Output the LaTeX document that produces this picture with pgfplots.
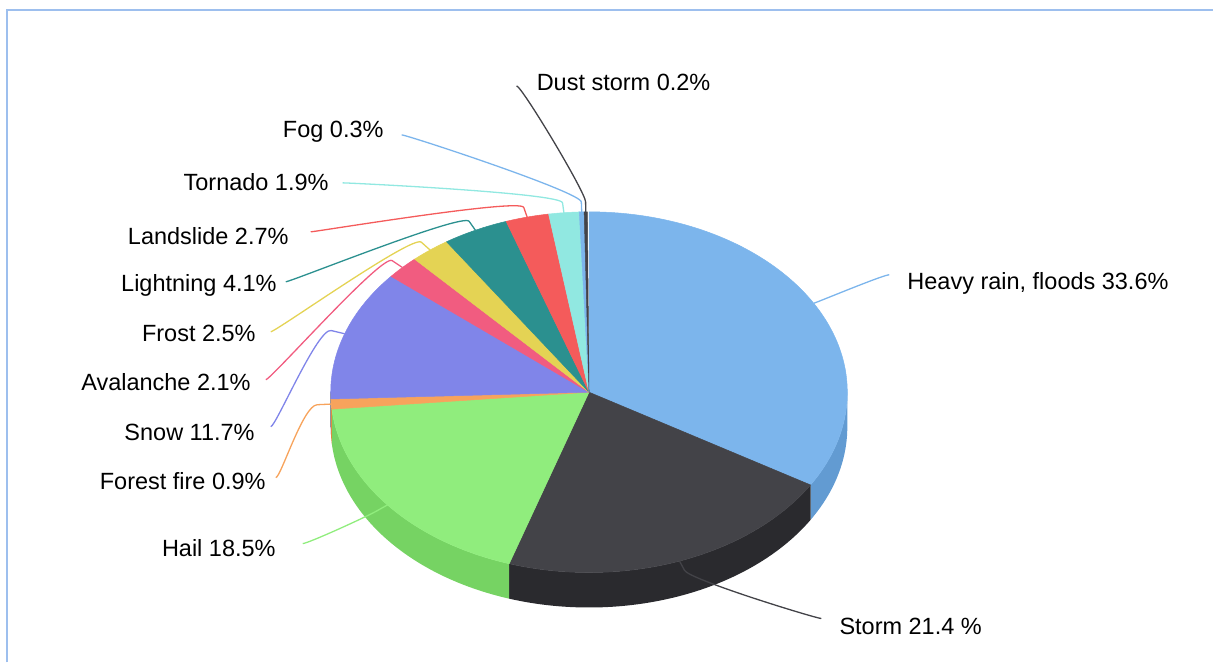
\documentclass[border=0pt]{standalone}
\usepackage{pgfplots}
\usepackage{pgfplotstable}
\pgfplotsset{compat=1.18}
\usepackage{fontspec}
\setmainfont{Liberation Sans}

% top-face colours (s) and the darker side walls (w)
\definecolor{s0}{HTML}{7CB5EC}\definecolor{w0}{HTML}{629BD2}
\definecolor{s1}{HTML}{434348}\definecolor{w1}{HTML}{2A2A2E}
\definecolor{s2}{HTML}{90ED7D}\definecolor{w2}{HTML}{76D363}
\definecolor{s3}{HTML}{F7A35C}\definecolor{w3}{HTML}{DD8942}
\definecolor{s4}{HTML}{8085E9}\definecolor{w4}{HTML}{666BCF}
\definecolor{s5}{HTML}{F15C80}\definecolor{w5}{HTML}{D74266}
\definecolor{s6}{HTML}{E4D354}\definecolor{w6}{HTML}{CAB93A}
\definecolor{s7}{HTML}{2B908F}\definecolor{w7}{HTML}{117675}
\definecolor{s8}{HTML}{F45B5B}\definecolor{w8}{HTML}{DA4141}
\definecolor{s9}{HTML}{91E8E1}\definecolor{w9}{HTML}{77CEC7}
\definecolor{s10}{HTML}{7CB5EC}\definecolor{w10}{HTML}{629BD2}
\definecolor{s11}{HTML}{434348}\definecolor{w11}{HTML}{2A2A2E}
\definecolor{frame}{HTML}{9DBFEE}

% share of each cause (%), clockwise from the top,
% and the outer end of its label connector (lx, ly)
\pgfplotstableread{
value  lx   ly
33.6   890  275
21.4   822  619
18.5   303  544
0.9    276  478
11.7   271  427
2.1    266  380
2.5    271  332
4.1    286  282
2.7    311  232
1.9    343  183
0.3    402  135
0.2    517  86
}\piedata

% pie geometry (y grows downwards): centre, radii, wall depth
\def\cx{589.5}\def\cy{392.5}\def\rx{258.5}\def\ry{180.5}\def\dep{35}
\def\g#1{\csname #1\endcsname}

% start/end angles, visible wall range and connector points per slice
\pgfmathsetmacro\acc{90}
\foreach \i in {0,...,11}{%
  \pgfplotstablegetelem{\i}{value}\of\piedata \let\sv\pgfplotsretval
  \pgfplotstablegetelem{\i}{lx}\of\piedata \let\slx\pgfplotsretval
  \pgfplotstablegetelem{\i}{ly}\of\piedata \let\sly\pgfplotsretval
  \pgfmathsetmacro\sA{\acc}
  \pgfmathsetmacro\sB{\acc-3.6*\sv}
  \pgfmathsetmacro\sM{(\sA+\sB)/2}
  \pgfmathsetmacro\sLo{max(\sB,-180)}
  \pgfmathsetmacro\sHi{max(min(\sA,0),\sLo)}
  \pgfmathsetmacro\sTx{\cx+\rx*cos(\sM)}
  \pgfmathsetmacro\sTy{\cy-\ry*sin(\sM)}
  \pgfmathsetmacro\sBx{\cx+1.055*\rx*cos(\sM)}
  \pgfmathsetmacro\sBy{\cy-1.055*\ry*sin(\sM)}
  \pgfmathsetmacro\sQx{2*\sBx-\sTx}
  \pgfmathsetmacro\sQy{2*\sBy-\sTy}
  \pgfmathsetmacro\sPx{\slx+ifthenelse(\slx<\sTx,5,-5)}
  \expandafter\xdef\csname pa\i\endcsname{\sA}
  \expandafter\xdef\csname pb\i\endcsname{\sB}
  \expandafter\xdef\csname lo\i\endcsname{\sLo}
  \expandafter\xdef\csname hi\i\endcsname{\sHi}
  \expandafter\xdef\csname tx\i\endcsname{\sTx}
  \expandafter\xdef\csname ty\i\endcsname{\sTy}
  \expandafter\xdef\csname bx\i\endcsname{\sBx}
  \expandafter\xdef\csname by\i\endcsname{\sBy}
  \expandafter\xdef\csname qx\i\endcsname{\sQx}
  \expandafter\xdef\csname qy\i\endcsname{\sQy}
  \expandafter\xdef\csname px\i\endcsname{\sPx}
  \expandafter\xdef\csname lx\i\endcsname{\slx}
  \expandafter\xdef\csname ly\i\endcsname{\sly}
  \xdef\acc{\sB}%
}

\begin{document}
\begin{tikzpicture}[lab/.style={font=\fontsize{23.5}{28}\selectfont, inner sep=0pt, text=black}]
\begin{axis}[
  scale only axis, width=1214pt, height=663pt,
  xmin=0, xmax=1214, ymin=0, ymax=663, y dir=reverse,
  hide axis, clip=false]

% keep the whole canvas in the bounding box
\path (axis cs:0,0) rectangle (axis cs:1214,663);

% side walls of the front half
\pgfplotsinvokeforeach{0,...,11}{
  \addplot[fill=w#1, draw=none, domain=0:3, samples=301, variable=\s]
    ({\cx+\rx*cos(\g{hi#1}+(\g{lo#1}-\g{hi#1})*(min(\s,1)-max(\s-2,0)))},
     {\cy-\ry*sin(\g{hi#1}+(\g{lo#1}-\g{hi#1})*(min(\s,1)-max(\s-2,0)))+\dep*min(max(\s-1,0),1)});
}

% top faces
\pgfplotsinvokeforeach{0,...,11}{
  \addplot[fill=s#1, draw=s#1, line width=0.5pt, domain=-1:2, samples=361, variable=\s]
    ({\cx+(min(\s+1,1)-max(\s-1,0))*\rx*cos(\g{pa#1}+(\g{pb#1}-\g{pa#1})*min(max(\s,0),1))},
     {\cy-(min(\s+1,1)-max(\s-1,0))*\ry*sin(\g{pa#1}+(\g{pb#1}-\g{pa#1})*min(max(\s,0),1))});
}

% label connectors
\pgfplotsinvokeforeach{0,...,11}{
  \draw[s#1, line width=1.3pt]
    (axis cs:\g{lx#1},\g{ly#1}) .. controls (axis cs:\g{px#1},\g{ly#1})
      and (axis cs:\g{qx#1},\g{qy#1}) .. (axis cs:\g{bx#1},\g{by#1})
      -- (axis cs:\g{tx#1},\g{ty#1});
}

% labels
\node[lab, anchor=base west] at (axis cs:908,290) {Heavy rain, floods 33.6\%};
\node[lab, anchor=base west] at (axis cs:840,635) {Storm 21.4 \%};
\node[lab, anchor=base east] at (axis cs:276,557) {Hail 18.5\%};
\node[lab, anchor=base east] at (axis cs:266,490) {Forest fire 0.9\%};
\node[lab, anchor=base east] at (axis cs:255,441) {Snow 11.7\%};
\node[lab, anchor=base east] at (axis cs:251,391) {Avalanche 2.1\%};
\node[lab, anchor=base east] at (axis cs:256,342) {Frost 2.5\%};
\node[lab, anchor=base east] at (axis cs:277,292) {Lightning 4.1\%};
\node[lab, anchor=base east] at (axis cs:289,245) {Landslide 2.7\%};
\node[lab, anchor=base east] at (axis cs:329,191) {Tornado 1.9\%};
\node[lab, anchor=base east] at (axis cs:384,138) {Fog 0.3\%};
\node[lab, anchor=base west] at (axis cs:537,91) {Dust storm 0.2\%};

% frame (open on the right and at the bottom)
\draw[frame, line width=2pt] (axis cs:7,663) -- (axis cs:7,10) -- (axis cs:1214,10);
\end{axis}
\end{tikzpicture}
\end{document}
